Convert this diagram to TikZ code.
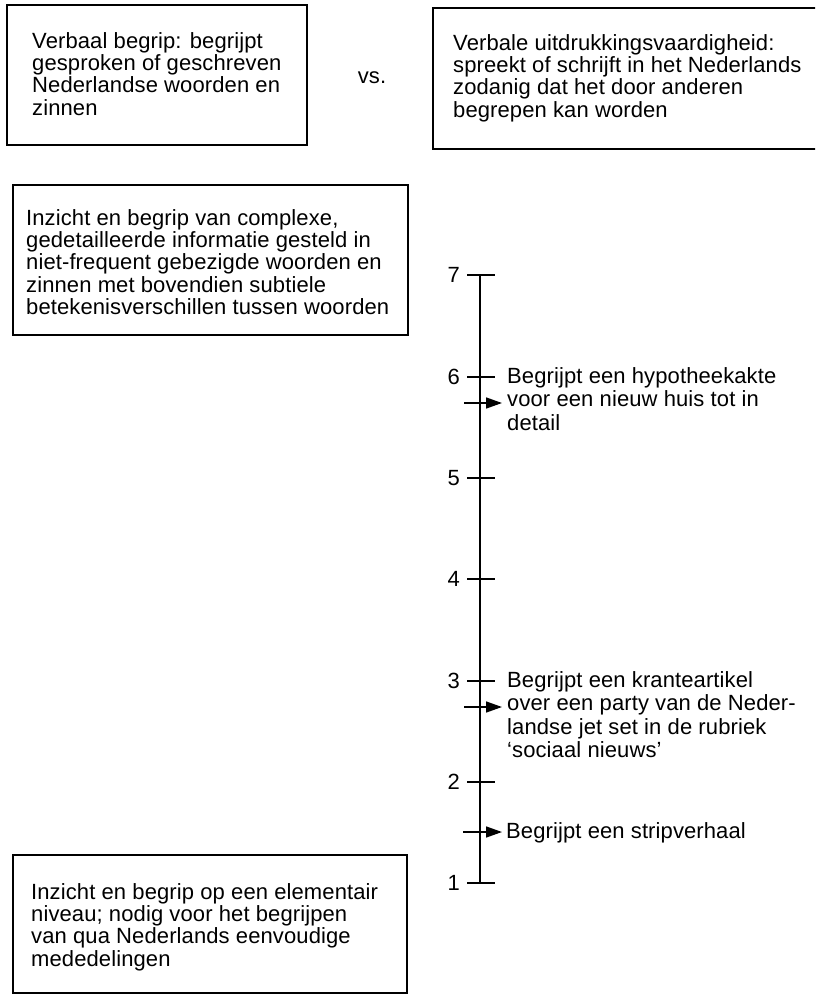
\documentclass[tikz,border=0pt]{standalone}
\usepackage{fontspec}
\setmainfont{Liberation Sans}[LetterSpace=0.5]
\usetikzlibrary{arrows.meta}
\begin{document}
\begin{tikzpicture}[x=1pt,y=-1pt,
  txt/.style={font=\fontsize{22}{22.3}\selectfont, align=left, anchor=north west, inner sep=0pt},
  lbl/.style={font=\fontsize{22}{23.5}\selectfont, align=left, anchor=north west, inner sep=0pt},
  num/.style={font=\fontsize{22}{22}\selectfont, anchor=east, inner sep=0pt},
  boxline/.style={line width=1.8pt},
  axis/.style={line width=1.6pt},
  pointer/.style={line width=1.5pt, -{Triangle[length=16pt,width=11pt]}}]
\clip (0,0) rectangle (815,996);
\fill[white] (0,0) rectangle (815,996);
% boxes
\draw[boxline] (7,5) rectangle (307,145);
\node[txt] (b1) at (32,32) {Verbaal begrip: begrijpt\\gesproken of geschreven\\Nederlandse woorden en\\zinnen};
\node[font=\fontsize{22}{22}\selectfont, inner sep=0pt] (vs) at (372,78) {vs.};
\draw[boxline] (433,8) rectangle (830,149);
\node[txt] (b2) at (453,34) {Verbale uitdrukkingsvaardigheid:\\spreekt of schrijft in het Nederlands\\zodanig dat het door anderen\\begrepen kan worden};
\draw[boxline] (13,185) rectangle (408,335);
\node[txt] (b3) at (26,209) {Inzicht en begrip van complexe,\\gedetailleerde informatie gesteld in\\niet-frequent gebezigde woorden en\\zinnen met bovendien subtiele\\betekenisverschillen tussen woorden};
\draw[boxline] (13,855) rectangle (407,993);
\node[txt] (b4) at (31,883) {Inzicht en begrip op een elementair\\niveau; nodig voor het begrijpen\\van qua Nederlands eenvoudige\\mededelingen};
% scale
\coordinate (top) at (480,275);
\coordinate (bot) at (480,883);
\draw[axis] (top) -- (bot);
\foreach \n/\y in {7/275,6/377,5/478,4/579,3/681,2/782,1/883}{
  \draw[axis] (467,\y) -- (495,\y);
  \node[num] (n\n) at (460,\y) {\n};
}
\coordinate (a1s) at (464,403);
\coordinate (a1e) at (502,403);
\draw[pointer] (a1s) -- (a1e);
\node[lbl] (l1) at (507,367) {Begrijpt een hypotheekakte\\voor een nieuw huis tot in\\detail};
\coordinate (a2s) at (464,707);
\coordinate (a2e) at (502,707);
\draw[pointer] (a2s) -- (a2e);
\node[lbl] (l2) at (507,671) {Begrijpt een kranteartikel\\over een party van de Neder-\\landse jet set in de rubriek\\`sociaal nieuws'};
\coordinate (a3s) at (463,832);
\coordinate (a3e) at (502,832);
\draw[pointer] (a3s) -- (a3e);
\node[lbl] (l3) at (506,822) {Begrijpt een stripverhaal};
\end{tikzpicture}
\end{document}
